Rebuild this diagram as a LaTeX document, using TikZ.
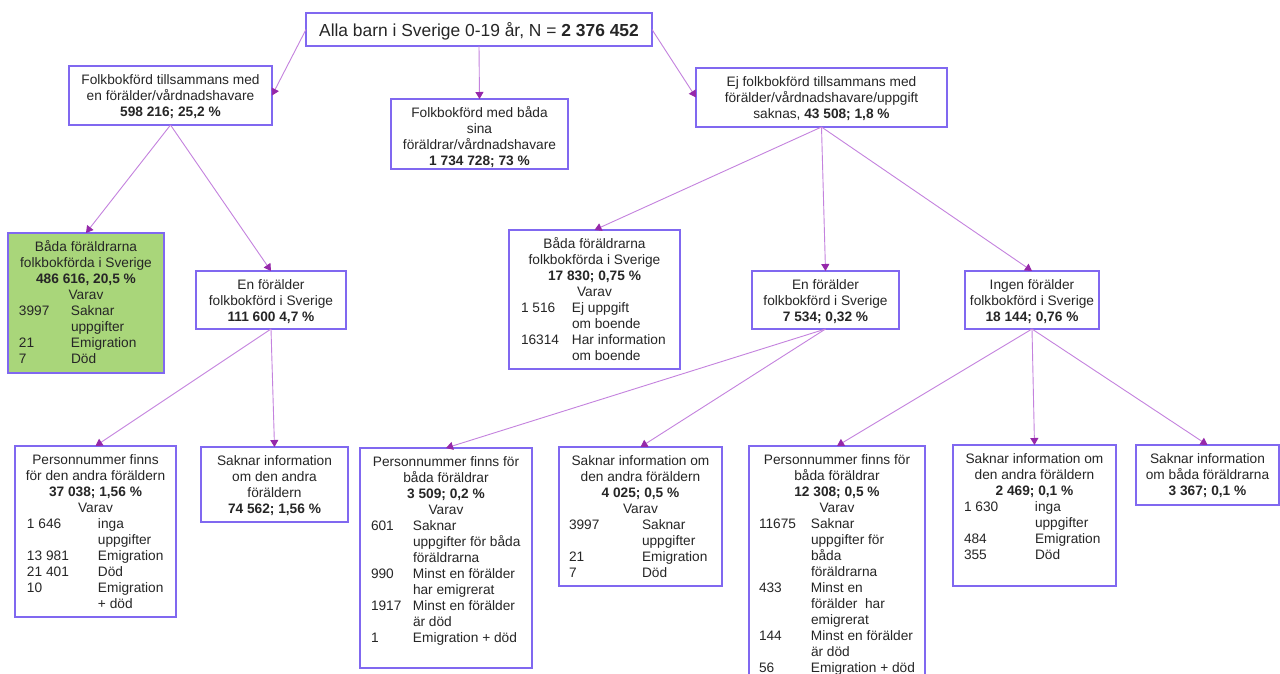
\documentclass[tikz,border=0pt]{standalone}
\usepackage{fontspec}
\setmainfont{Liberation Sans}
\usetikzlibrary{arrows.meta}
\definecolor{bordc}{RGB}{128,104,240}
\definecolor{linec}{RGB}{196,130,222}
\definecolor{tipc}{RGB}{150,40,170}
\definecolor{greenc}{RGB}{169,214,122}
\definecolor{txtc}{RGB}{38,38,38}
\tikzset{
  boxst/.style={draw=bordc, line width=1.2pt, fill=white, text=txtc,
    font=\fontsize{13.7}{16}\selectfont, inner sep=0pt, outer sep=0pt, anchor=north west},
  greenbox/.style={fill=greenc},
  titlebox/.style={font=\fontsize{17.4}{20}\selectfont},
  conn/.style={draw=linec, line width=0.9pt, -{Triangle[length=7pt,width=8pt,color=tipc]}}
}
\newcommand{\mkbox}[7][]{%
  \node[boxst,#1] (#2) at (#3,-#4)
  {\begin{minipage}[c][\dimexpr #6pt-#4pt\relax][t]{\dimexpr #5pt-#3pt\relax}#7\end{minipage}};}
\newcommand{\fl}{\rule{0pt}{18pt}}
\newcommand{\rw}[4]{\par\noindent\hspace*{#1pt}\makebox[#2pt][l]{#3}#4}
\begin{document}
\begin{tikzpicture}[x=1pt,y=1pt]
\fill[white] (0,0) rectangle (1280,-673);
\useasboundingbox (0,0) rectangle (1280,-673);

\mkbox[titlebox]{n1}{306}{13}{652}{46}{\centering\rule{0pt}{23pt}Alla barn i Sverige 0-19 år, N = \textbf{2 376 452}\par}

\mkbox{n2}{69}{66}{272}{125}{\centering\fl Folkbokförd tillsammans med\\en förälder/vårdnadshavare\\\textbf{598 216; 25,2 \%}\par}

\mkbox{n3}{391}{99}{568}{169}{\centering\fl Folkbokförd med båda\\sina\\föräldrar/vårdnadshavare\\\textbf{1 734 728; 73 \%}\par}

\mkbox{n4}{696}{68}{947}{127}{\centering\fl Ej folkbokförd tillsammans med\\förälder/vårdnadshavare/uppgift\\saknas, \textbf{43 508; 1,8 \%}\par}

\mkbox[greenbox]{n5}{8}{233}{164}{373}{\centering\fl Båda föräldrarna\\folkbokförda i Sverige\\\textbf{486 616, 20,5 \%}\\Varav\par
\raggedright
\rw{11}{52}{3997}{Saknar}\rw{11}{52}{}{uppgifter}\rw{11}{52}{21}{Emigration}\rw{11}{52}{7}{Död}\par}

\mkbox{n6}{196}{271}{346}{329}{\centering\fl En förälder\\folkbokförd i Sverige\\\textbf{111 600 4,7 \%}\par}

\mkbox{n7}{509}{230}{680}{369}{\centering\fl Båda föräldrarna\\folkbokförda i Sverige\\\textbf{17 830; 0,75 \%}\\Varav\par
\raggedright
\rw{12}{51}{1 516}{Ej uppgift}\rw{12}{51}{}{om boende}\rw{12}{51}{16314}{Har information}\rw{12}{51}{}{om boende}\par}

\mkbox{n8}{752}{271}{899}{329}{\centering\fl En förälder\\folkbokförd i Sverige\\\textbf{7 534; 0,32 \%}\par}

\mkbox{n9}{965}{271}{1099}{329}{\centering\fl Ingen förälder\\folkbokförd i Sverige\\\textbf{18 144; 0,76 \%}\par}

\mkbox{n10}{15}{446}{176}{617}{\centering\fl Personnummer finns\\för den andra föräldern\\\textbf{37 038; 1,56 \%}\\Varav\par
\raggedright
\rw{12}{71}{1 646}{inga}\rw{12}{71}{}{uppgifter}\rw{12}{71}{13 981}{Emigration}\rw{12}{71}{21 401}{Död}\rw{12}{71}{10}{Emigration}\rw{12}{71}{}{+ död}\par}

\mkbox{n11}{201}{447}{348}{522}{\centering\fl Saknar information\\om den andra\\föräldern\\\textbf{74 562; 1,56 \%}\par}

\mkbox{n12}{360}{448}{532}{668}{\centering\fl Personnummer finns för\\båda föräldrar\\\textbf{3 509; 0,2 \%}\\Varav\par
\raggedright
\rw{11}{42}{601}{Saknar}\rw{11}{42}{}{uppgifter för båda}\rw{11}{42}{}{föräldrarna}\rw{11}{42}{990}{Minst en förälder}\rw{11}{42}{}{har emigrerat}\rw{11}{42}{1917}{Minst en förälder}\rw{11}{42}{}{är död}\rw{11}{42}{1}{Emigration + död}\par}

\mkbox{n13}{559}{447}{722}{586}{\centering\fl Saknar information om\\den andra föräldern\\\textbf{4 025; 0,5 \%}\\Varav\par
\raggedright
\rw{10}{73}{3997}{Saknar}\rw{10}{73}{}{uppgifter}\rw{10}{73}{21}{Emigration}\rw{10}{73}{7}{Död}\par}

\mkbox{n14}{749}{446}{925}{676}{\centering\fl Personnummer finns för\\båda föräldrar\\\textbf{12 308; 0,5 \%}\\Varav\par
\raggedright
\rw{10}{52}{11675}{Saknar}\rw{10}{52}{}{uppgifter för}\rw{10}{52}{}{båda}\rw{10}{52}{}{föräldrarna}\rw{10}{52}{433}{Minst en}\rw{10}{52}{}{förälder\ \ har}\rw{10}{52}{}{emigrerat}\rw{10}{52}{144}{Minst en förälder}\rw{10}{52}{}{är död}\rw{10}{52}{56}{Emigration + död}\par}

\mkbox{n15}{953}{445}{1116}{586}{\centering\fl Saknar information om\\den andra föräldern\\\textbf{2 469; 0,1 \%}\par
\raggedright
\rw{11}{71}{1 630}{inga}\rw{11}{71}{}{uppgifter}\rw{11}{71}{484}{Emigration}\rw{11}{71}{355}{Död}\par}

\mkbox{n16}{1136}{445}{1279}{505}{\centering\fl Saknar information\\om båda föräldrarna\\\textbf{3 367; 0,1 \%}\par}

\draw[conn] (n1.west) -- (n2.east);
\draw[conn] (n1.south) -- (n3.north);
\draw[conn] (n1.east) -- (n4.west);
\draw[conn] (n2.south) -- (n5.north);
\draw[conn] (n2.south) -- (n6.north);
\draw[conn] (n4.south) -- (n7.north);
\draw[conn] (n4.south) -- (n8.north);
\draw[conn] (n4.south) -- (n9.north);
\draw[conn] (n6.south) -- (n10.north);
\draw[conn] (n6.south) -- (n11.north);
\draw[conn] (n8.south) -- (n12.north);
\draw[conn] (n8.south) -- (n13.north);
\draw[conn] (n9.south) -- (n14.north);
\draw[conn] (n9.south) -- (n15.north);
\draw[conn] (n9.south) -- (n16.north);
\end{tikzpicture}
\end{document}
